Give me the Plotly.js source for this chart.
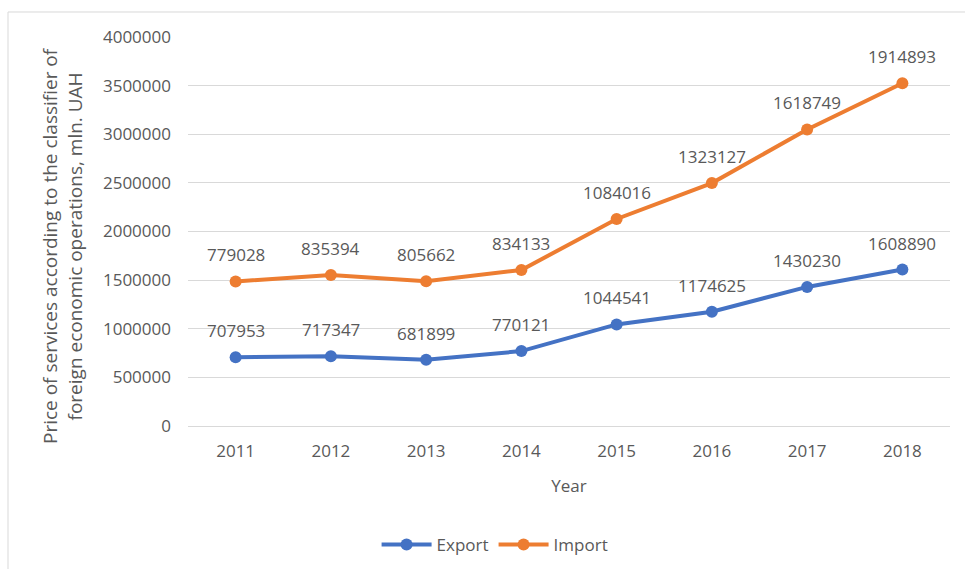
<!DOCTYPE html>
<html><head><meta charset="utf-8">
<script src="https://cdn.plot.ly/plotly-3.0.1.min.js"></script>
<style>html,body{margin:0;padding:0;background:#fff}#chart{width:965px;height:569px}</style>
</head><body><div id="chart"></div>
<script>
const years = ['2011','2012','2013','2014','2015','2016','2017','2018'];
const exportVals = [707953, 717347, 681899, 770121, 1044541, 1174625, 1430230, 1608890];
const importVals = [779028, 835394, 805662, 834133, 1084016, 1323127, 1618749, 1914893];
const yTicks = [0, 500000, 1000000, 1500000, 2000000, 2500000, 3000000, 3500000, 4000000];
const yTitle = 'Price of services according to the classifier of<br>foreign economic operations, mln. UAH';

const FONT = 'Open Sans, Liberation Sans, sans-serif';
const stackedImport = importVals.map((v, i) => v + exportVals[i]);

const traces = [
  {x: years, y: exportVals, name: 'Export', type: 'scatter', mode: 'lines+markers', stackgroup: 'one', fill: 'none',
   line: {color: '#4472C4', width: 4}, marker: {color: '#4472C4', size: 12}},
  {x: years, y: importVals, name: 'Import', type: 'scatter', mode: 'lines+markers', stackgroup: 'one', fill: 'none',
   line: {color: '#ED7D31', width: 4}, marker: {color: '#ED7D31', size: 12}}
];

const annotations = [];
years.forEach((yr, i) => {
  annotations.push({xref: 'x', yref: 'y', x: i, y: exportVals[i], text: String(exportVals[i]), showarrow: false, yanchor: 'bottom', yshift: 13,
    font: {family: FONT, size: 17, color: '#595959'}});
  annotations.push({xref: 'x', yref: 'y', x: i, y: stackedImport[i], text: String(importVals[i]), showarrow: false, yanchor: 'bottom', yshift: 13,
    font: {family: FONT, size: 17, color: '#595959'}});
});
annotations.push({xref: 'paper', yref: 'paper', x: -0.1647, y: 0.464, xanchor: 'center', yanchor: 'middle',
  text: yTitle, textangle: -90, showarrow: false, font: {family: FONT, size: 19, color: '#595959'}});

const layout = {
  width: 965, height: 569,
  margin: {l: 188, r: 15, t: 37, b: 143, autoexpand: false},
  paper_bgcolor: '#fff', plot_bgcolor: '#fff',
  font: {family: FONT, size: 17, color: '#595959'},
  showlegend: true,
  legend: {orientation: 'h', x: 0.403, xanchor: 'center', y: -0.306, yanchor: 'middle', font: {size: 17, color: '#595959'}, itemwidth: 50},
  xaxis: {type: 'category', range: [-0.5, 7.5], showgrid: false, showline: false, zeroline: false, ticks: '', automargin: false,
    ticklabelstandoff: 13,
    title: {text: 'Year', standoff: 19, font: {size: 17, color: '#595959'}}},
  yaxis: {range: [0, 4000000], tickvals: yTicks, ticktext: yTicks.map(String), showgrid: true, gridcolor: '#d9d9d9', gridwidth: 1,
    zeroline: true, zerolinecolor: '#d9d9d9', showline: false, ticks: '', ticklabelstandoff: 16, automargin: false},
  annotations: annotations,
  shapes: [{type: 'rect', xref: 'paper', yref: 'paper', x0: -0.2362, x1: 1.1, y0: -0.5, y1: 1.0643,
    line: {color: '#d9d9d9', width: 1}, fillcolor: 'rgba(0,0,0,0)', layer: 'below'}]
};

Plotly.newPlot('chart', traces, layout, {displayModeBar: false, staticPlot: true});
</script></body></html>
